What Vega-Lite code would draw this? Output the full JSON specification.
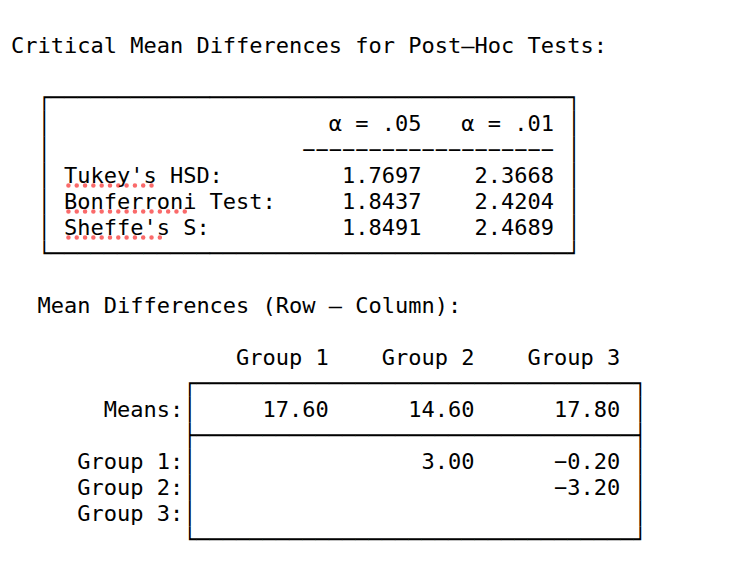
{
  "$schema": "https://vega.github.io/schema/vega-lite/v6.json",
  "width": 734,
  "height": 564,
  "autosize": "none",
  "padding": 0,
  "background": "white",
  "config": {"view": {"stroke": "transparent"}},
  "datasets": {
    "lines": [
      {"line": 0, "col": 0, "text": "Critical Mean Differences for Post–Hoc Tests:"},

      {"line": 2, "col": 2, "text": "┌───────────────────────────────────────┐"},
      {"line": 3, "col": 2, "text": "│"}, {"line": 3, "col": 42, "text": "│"},
      {"line": 4, "col": 2, "text": "│"}, {"line": 4, "col": 42, "text": "│"},
      {"line": 5, "col": 2, "text": "│"}, {"line": 5, "col": 42, "text": "│"},
      {"line": 6, "col": 2, "text": "│"}, {"line": 6, "col": 42, "text": "│"},
      {"line": 7, "col": 2, "text": "│"}, {"line": 7, "col": 42, "text": "│"},
      {"line": 8, "col": 2, "text": "└───────────────────────────────────────┘"},

      {"line": 3, "col": 24, "text": "α = .05"},
      {"line": 3, "col": 34, "text": "α = .01"},
      {"line": 4, "col": 22, "text": "−−−−−−−−−−−−−−−−−−−"},
      {"line": 5, "col": 4, "text": "Tukey's HSD:"},
      {"line": 5, "col": 25, "text": "1.7697"},
      {"line": 5, "col": 35, "text": "2.3668"},
      {"line": 6, "col": 4, "text": "Bonferroni Test:"},
      {"line": 6, "col": 25, "text": "1.8437"},
      {"line": 6, "col": 35, "text": "2.4204"},
      {"line": 7, "col": 4, "text": "Sheffe's S:"},
      {"line": 7, "col": 25, "text": "1.8491"},
      {"line": 7, "col": 35, "text": "2.4689"},

      {"line": 10, "col": 2, "text": "Mean Differences (Row – Column):"},

      {"line": 12, "col": 17, "text": "Group 1"},
      {"line": 12, "col": 28, "text": "Group 2"},
      {"line": 12, "col": 39, "text": "Group 3"},

      {"line": 13, "col": 13, "text": "┌─────────────────────────────────┐"},
      {"line": 14, "col": 13, "text": "│"}, {"line": 14, "col": 47, "text": "│"},
      {"line": 15, "col": 13, "text": "├─────────────────────────────────┤"},
      {"line": 16, "col": 13, "text": "│"}, {"line": 16, "col": 47, "text": "│"},
      {"line": 17, "col": 13, "text": "│"}, {"line": 17, "col": 47, "text": "│"},
      {"line": 18, "col": 13, "text": "│"}, {"line": 18, "col": 47, "text": "│"},
      {"line": 19, "col": 13, "text": "└─────────────────────────────────┘"},

      {"line": 14, "col": 7, "text": "Means:"},
      {"line": 14, "col": 19, "text": "17.60"},
      {"line": 14, "col": 30, "text": "14.60"},
      {"line": 14, "col": 41, "text": "17.80"},
      {"line": 16, "col": 5, "text": "Group 1:"},
      {"line": 16, "col": 31, "text": "3.00"},
      {"line": 16, "col": 41, "text": "−0.20"},
      {"line": 17, "col": 5, "text": "Group 2:"},
      {"line": 17, "col": 41, "text": "−3.20"},
      {"line": 18, "col": 5, "text": "Group 3:"}
    ],
    "misspelled": [
      {"line": 5, "from": 4, "to": 11, "word": "Tukey's"},
      {"line": 6, "from": 4, "to": 14, "word": "Bonferroni"},
      {"line": 7, "from": 4, "to": 12, "word": "Sheffe's"}
    ]
  },
  "layer": [
    {
      "data": {"name": "misspelled"},
      "mark": {
        "type": "rule",
        "color": "#fa6a6a",
        "strokeWidth": 4.5,
        "strokeCap": "round",
        "strokeDash": [0.01, 8.3],
        "xOffset": 4.5,
        "x2Offset": -4,
        "yOffset": 2.5
      },
      "encoding": {
        "x": {"field": "from", "type": "quantitative", "scale": {"domain": [-0.8268, 54.5957], "nice": false, "zero": false}, "axis": null},
        "x2": {"field": "to"},
        "y": {"field": "line", "type": "quantitative", "scale": {"domain": [-2.03846, 19.65385], "reverse": true, "nice": false, "zero": false}, "axis": null}
      }
    },
    {
      "data": {"name": "lines"},
      "mark": {
        "type": "text",
        "font": "DejaVu Sans Mono",
        "fontSize": 22,
        "align": "left",
        "baseline": "alphabetic",
        "color": "black"
      },
      "encoding": {
        "x": {"field": "col", "type": "quantitative", "scale": {"domain": [-0.8268, 54.5957], "nice": false, "zero": false}, "axis": null},
        "y": {"field": "line", "type": "quantitative", "scale": {"domain": [-2.03846, 19.65385], "reverse": true, "nice": false, "zero": false}, "axis": null},
        "text": {"field": "text"}
      }
    }
  ]
}
